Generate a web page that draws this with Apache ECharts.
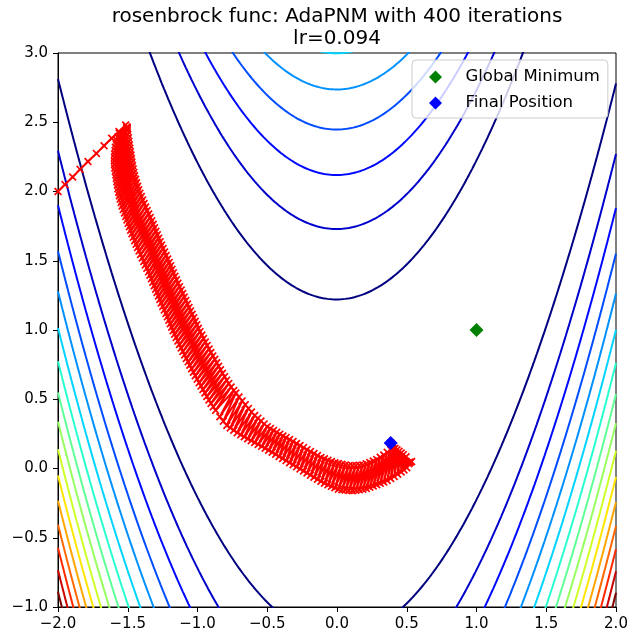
<!DOCTYPE html>
<html><head><meta charset="utf-8">
<script src="https://cdn.jsdelivr.net/npm/echarts@6/dist/echarts.min.js"></script>
<style>html,body{margin:0;padding:0;background:#fff}#c{width:635px;height:643px}</style>
</head><body><div id="c"></div>
<script>
const titleText = 'rosenbrock func: AdaPNM with 400 iterations\nlr=0.094';
const xRange = [-2, 2];
const yRange = [-1, 3];
const tickStep = 0.5;
const contourLevels = [150,300,450,600,750,900,1050,1200,1350,1500,1650,1800,1950,2100,2250,2400];
const legendNames = ['Global Minimum', 'Final Position'];
const globalMinimum = [[1.0, 1.0]];
const finalPosition = [[0.385, 0.184]];
// optimizer trajectory
const pathPoints = [
[-2.0,2.0],[-1.95,2.05],[-1.895,2.105],[-1.842,2.16],[-1.785,2.217],[-1.725,2.275],[-1.67,2.33],[-1.615,2.385],[-1.563,2.433],[-1.515,2.48],
[-1.561,2.42],[-1.505,2.465],[-1.570,2.395],[-1.505,2.463],[-1.578,2.37],[-1.505,2.46],[-1.583,2.345],[-1.505,2.455],
[-1.588,2.32],[-1.505,2.45],[-1.591,2.295],[-1.503,2.438],[-1.594,2.27],[-1.500,2.413],[-1.595,2.245],[-1.496,2.388],
[-1.596,2.22],[-1.492,2.363],[-1.595,2.195],[-1.489,2.338],[-1.593,2.17],[-1.485,2.313],[-1.589,2.145],[-1.481,2.288],
[-1.585,2.12],[-1.477,2.263],[-1.582,2.095],[-1.474,2.238],[-1.578,2.07],[-1.470,2.213],[-1.574,2.045],[-1.466,2.188],
[-1.570,2.02],[-1.461,2.163],[-1.565,1.995],[-1.456,2.138],[-1.560,1.97],[-1.451,2.113],[-1.554,1.945],[-1.444,2.088],
[-1.547,1.92],[-1.437,2.063],[-1.540,1.895],[-1.429,2.038],[-1.532,1.87],[-1.422,2.013],[-1.523,1.845],[-1.413,1.988],
[-1.514,1.82],[-1.403,1.963],[-1.506,1.795],[-1.393,1.938],[-1.497,1.77],[-1.383,1.913],[-1.488,1.745],[-1.372,1.888],
[-1.479,1.72],[-1.361,1.863],[-1.470,1.695],[-1.350,1.838],[-1.460,1.67],[-1.339,1.813],[-1.450,1.645],[-1.328,1.788],
[-1.440,1.62],[-1.318,1.763],[-1.430,1.595],[-1.308,1.738],[-1.419,1.57],[-1.298,1.713],[-1.408,1.545],[-1.288,1.688],
[-1.396,1.52],[-1.278,1.663],[-1.385,1.495],[-1.268,1.638],[-1.374,1.47],[-1.258,1.613],[-1.363,1.445],[-1.247,1.588],
[-1.351,1.42],[-1.236,1.563],[-1.341,1.395],[-1.225,1.538],[-1.330,1.37],[-1.214,1.513],[-1.320,1.345],[-1.203,1.488],
[-1.310,1.32],[-1.193,1.463],[-1.300,1.295],[-1.183,1.438],[-1.290,1.27],[-1.173,1.413],[-1.280,1.245],[-1.162,1.388],
[-1.270,1.22],[-1.151,1.363],[-1.260,1.195],[-1.140,1.338],[-1.249,1.17],[-1.129,1.313],[-1.238,1.145],[-1.117,1.288],
[-1.226,1.12],[-1.106,1.263],[-1.216,1.095],[-1.095,1.238],[-1.205,1.07],[-1.084,1.213],[-1.195,1.045],[-1.072,1.188],
[-1.185,1.02],[-1.061,1.163],[-1.175,0.995],[-1.050,1.138],[-1.164,0.97],[-1.039,1.113],[-1.153,0.945],[-1.027,1.088],
[-1.141,0.92],[-1.016,1.063],[-1.129,0.895],[-1.005,1.038],[-1.117,0.87],[-0.994,1.013],[-1.105,0.845],[-0.982,0.988],
[-1.092,0.82],[-0.969,0.963],[-1.080,0.795],[-0.957,0.938],[-1.067,0.77],[-0.944,0.913],[-1.055,0.745],[-0.931,0.888],
[-1.042,0.72],[-0.917,0.863],[-1.029,0.695],[-0.904,0.838],[-1.016,0.67],[-0.890,0.813],[-1.002,0.645],[-0.876,0.788],
[-0.988,0.62],[-0.862,0.763],[-0.975,0.595],[-0.849,0.738],[-0.961,0.57],[-0.835,0.713],[-0.947,0.545],[-0.821,0.688],
[-0.933,0.52],[-0.806,0.663],[-0.918,0.495],[-0.791,0.638],[-0.903,0.47],[-0.776,0.613],[-0.887,0.445],[-0.759,0.588],
[-0.870,0.42],[-0.740,0.563],
[-0.84,0.374],[-0.725,0.545],[-0.815,0.342],[-0.7025,0.516],[-0.79,0.311],[-0.68,0.488],[-0.765,0.293],[-0.6575,0.461],
[-0.74,0.276],[-0.635,0.434],[-0.715,0.259],[-0.6125,0.408],[-0.69,0.243],[-0.59,0.383],[-0.665,0.229],[-0.5675,0.363],
[-0.64,0.215],[-0.545,0.343],[-0.615,0.201],[-0.5225,0.322],[-0.59,0.188],[-0.50,0.302],[-0.565,0.174],[-0.4775,0.288],
[-0.54,0.160],[-0.455,0.275],[-0.515,0.146],[-0.4325,0.261],[-0.49,0.132],[-0.41,0.248],[-0.465,0.117],[-0.3875,0.235],
[-0.44,0.102],[-0.365,0.223],[-0.415,0.087],[-0.34,0.209],[-0.39,0.072],[-0.315,0.195],[-0.365,0.057],[-0.29,0.180],
[-0.34,0.042],[-0.265,0.166],[-0.315,0.027],[-0.24,0.151],[-0.29,0.012],[-0.215,0.136],[-0.265,-0.003],[-0.19,0.122],
[-0.24,-0.018],[-0.165,0.108],[-0.215,-0.033],[-0.14,0.094],[-0.19,-0.048],[-0.115,0.080],[-0.165,-0.063],[-0.09,0.070],
[-0.14,-0.078],[-0.065,0.060],[-0.115,-0.092],[-0.04,0.051],[-0.09,-0.107],[-0.015,0.042],[-0.065,-0.118],[0.01,0.036],
[-0.04,-0.129],[0.035,0.030],[-0.015,-0.139],[0.06,0.025],[0.01,-0.149],[0.085,0.020],[0.035,-0.153],[0.11,0.020],
[0.06,-0.156],[0.135,0.021],[0.085,-0.159],[0.16,0.023],[0.11,-0.161],[0.185,0.026],[0.135,-0.157],[0.21,0.034],
[0.16,-0.153],[0.235,0.043],[0.185,-0.149],[0.26,0.054],[0.21,-0.144],[0.285,0.065],[0.235,-0.135],[0.31,0.081],
[0.26,-0.126],[0.335,0.098],[0.285,-0.117],[0.36,0.117],[0.31,-0.107],[0.385,0.137],
[0.335,-0.097],[0.40,0.145],[0.36,-0.087],[0.415,0.145],[0.385,-0.072],[0.43,0.135],[0.41,-0.057],[0.445,0.125],
[0.435,-0.042],[0.46,0.112],[0.46,-0.025],[0.475,0.10],[0.48,-0.01],[0.495,0.085],[0.50,0.005],[0.535,0.05],
[0.40,0.165],[0.525,0.045],[0.395,0.172],[0.515,0.035],[0.39,0.178],[0.52,0.045],[0.385,0.184]
];

function rosenbrockBranches(c) {
  const up = [], lo = [];
  for (let i = 0; i <= 1000; i++) {
    const x = xRange[0] + i * (xRange[1] - xRange[0]) / 1000;
    const r = c - (1 - x) * (1 - x);
    if (r < 0) continue;
    const s = Math.sqrt(r) / 10;
    up.push([x, x * x + s]);
    lo.push([x, x * x - s]);
  }
  return [up, lo];
}
const jetR = [[0,0],[0.35,0],[0.66,1],[0.89,1],[1,0.5]];
const jetG = [[0,0],[0.125,0],[0.375,1],[0.64,1],[0.91,0],[1,0]];
const jetB = [[0,0.5],[0.11,1],[0.34,1],[0.65,0],[1,0]];
function seg(s, t) {
  for (let i = 0; i < s.length - 1; i++) {
    if (t <= s[i+1][0]) return s[i][1] + (t - s[i][0]) / (s[i+1][0] - s[i][0]) * (s[i+1][1] - s[i][1]);
  }
  return s[s.length-1][1];
}
function jet(t) {
  return 'rgb(' + Math.round(seg(jetR,t)*255) + ',' + Math.round(seg(jetG,t)*255) + ',' + Math.round(seg(jetB,t)*255) + ')';
}
const lvMin = contourLevels[0], lvMax = contourLevels[contourLevels.length-1];
const series = [];
contourLevels.forEach(c => {
  const col = jet((c - lvMin) / (lvMax - lvMin));
  rosenbrockBranches(c).forEach(b => {
    series.push({type:'line', data:b, symbol:'none', silent:true, clip:true, z:1,
      lineStyle:{color:col, width:2}, animation:false});
  });
});
const cross = 'path://M0,1.5L1.5,0L5,3.5L8.5,0L10,1.5L6.5,5L10,8.5L8.5,10L5,6.5L1.5,10L0,8.5L3.5,5Z';
series.push({type:'line', name:'path', data:pathPoints, symbol:cross, symbolSize:8, showAllSymbol:true,
  clip:true, z:3, lineStyle:{color:'#ff0000', width:2}, itemStyle:{color:'#ff0000', opacity:1}, animation:false});
series.push({type:'scatter', name:legendNames[0], data:globalMinimum, symbol:'diamond', symbolSize:14, z:5,
  itemStyle:{color:'#008000', opacity:1}, animation:false});
series.push({type:'scatter', name:legendNames[1], data:finalPosition, symbol:'diamond', symbolSize:14, z:5,
  itemStyle:{color:'#0000ff', opacity:1}, animation:false});

const legendIcon = 'path://M0,6.5L6.5,0L13,6.5L6.5,13Z M31.5,6.5L31.49,6.5L31.5,6.49Z';
const fmt = v => (v < 0 ? '\u2212' : '') + Math.abs(v).toFixed(1);
const FONT = 'DejaVu Sans';
const chart = echarts.init(document.getElementById('c'), null, {renderer:'canvas'});
chart.setOption({
  backgroundColor:'#ffffff',
  animation:false,
  title:{text:titleText, left:337, top:6, padding:0, textAlign:'center',
    textStyle:{fontFamily:FONT, fontSize:20, fontWeight:'normal', color:'#000', lineHeight:22}},
  grid:{left:58, right:19, top:53, bottom:36, show:true, borderColor:'#000', borderWidth:1, backgroundColor:'transparent'},
  legend:{data:legendNames, orient:'vertical', left:412, top:60, icon:legendIcon, itemWidth:31.5, itemHeight:13,
    itemGap:6, padding:[7,8,5,17], backgroundColor:'rgba(255,255,255,0.8)', borderColor:'#cccccc',
    borderWidth:1, borderRadius:4, itemStyle:{opacity:1},
    textStyle:{fontFamily:FONT, fontSize:16.5, color:'#000', lineHeight:20, height:20}, z:10},
  xAxis:{type:'value', min:xRange[0], max:xRange[1], interval:tickStep,
    axisLine:{show:true, onZero:false, lineStyle:{color:'#000', width:1}},
    axisTick:{show:true, length:5, lineStyle:{color:'#000', width:1}},
    axisLabel:{formatter:fmt, fontFamily:FONT, fontSize:15, color:'#000', margin:10},
    splitLine:{show:false}},
  yAxis:{type:'value', min:yRange[0], max:yRange[1], interval:tickStep,
    axisLine:{show:true, onZero:false, lineStyle:{color:'#000', width:1}},
    axisTick:{show:true, length:5, lineStyle:{color:'#000', width:1}},
    axisLabel:{formatter:fmt, fontFamily:FONT, fontSize:15, color:'#000', margin:10},
    splitLine:{show:false}},
  series:series
});
</script></body></html>
